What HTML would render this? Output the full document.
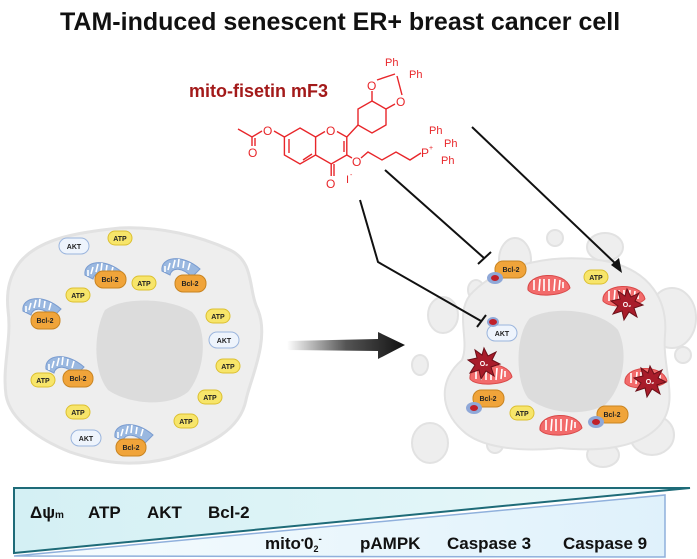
<!DOCTYPE html>
<html><head><meta charset="utf-8"><style>
html,body{margin:0;padding:0;background:#fff}
svg{display:block}
text{font-family:"Liberation Sans",sans-serif;font-weight:bold}
.p{font-size:7px;fill:#222;text-anchor:middle}
</style></head><body>
<svg width="697" height="559" viewBox="0 0 697 559" xmlns="http://www.w3.org/2000/svg">
<defs>
<linearGradient id="arr" x1="0" x2="1"><stop offset="0" stop-color="#fff"/><stop offset="0.5" stop-color="#555"/><stop offset="1" stop-color="#111"/></linearGradient>
<linearGradient id="up" x1="0" x2="1"><stop offset="0" stop-color="#d4f0f4"/><stop offset="1" stop-color="#e9f8fa"/></linearGradient>
<linearGradient id="lo" x1="0" x2="1"><stop offset="0" stop-color="#f6fcfe"/><stop offset="1" stop-color="#dff1fb"/></linearGradient>
<g id="mb"><path d="M-20,4 C-22,-10 0,-14 18,2 L10,10 C0,0 -10,0 -12,8 Z" fill="#9ab8e0" stroke="#7a9cd0"/><path d="M-14,3 l2,-7 M-9,1 l2,-8 M-4,0 l1,-8 M1,1 l1,-7 M6,3 l2,-7 M-17,5 l0,-6" stroke="#fff" stroke-width="1.6"/></g>
<g id="mr"><path d="M-20,6 C-22,-12 18,-14 22,4 C16,12 -14,14 -20,6 Z" fill="#f26b6b" stroke="#d94848"/><path d="M-14,6 l0,-10 M-9,7 l1,-12 M-4,7 l0,-12 M1,7 l0,-12 M6,7 l1,-12 M11,6 l1,-10 M15,4 l0,-6" stroke="#fff" stroke-width="1.6"/></g>
<g id="st"><polygon points="0,-15 4,-7 12,-11 8,-3 16,1 7,4 10,13 2,8 -3,16 -5,7 -14,10 -9,2 -16,-3 -7,-5 -9,-13 -2,-8" fill="#a81c2a" stroke="#6b0f18"/></g>
</defs>

<text x="60" y="30" font-size="25" fill="#111">TAM-induced senescent ER+  breast cancer cell</text>
<text x="189" y="97" font-size="18" fill="#a31a1a">mito-fisetin mF3</text>

<!-- molecule -->
<g stroke="#e8262a" stroke-width="1.4" fill="none">
<polygon points="300,128 315.6,137 315.6,155 300,164 284.4,155 284.4,137"/>
<path d="M315.6,137 L325,131.5 M337,131.5 L346.8,137 L346.8,155 L331.2,164 L315.6,155 M331.2,164 L331.2,176 M334,164 L334,176 M289,139 L289,153 M303,160 L312,154"/>
<path d="M284.4,137 L274,131 M262,131 L252,137 L238,129 M252,137 L252,146 M255,138 L255,146 M344,141 L344,152"/>
<polygon points="372,101 386,109 386,125 372,133 358,125 358,109"/>
<path d="M346.8,137 L358,125 M372,101 L372,91 M386,109 L395,104 M377,80 L395,74 M402,95 L397,76 M346.8,155 L352,158 M361,158 L368,152 L382,160 L396,152 L410,160 L421,153"/>
</g>
<g fill="#e8262a">
<text x="326" y="135" font-size="12" style="font-weight:normal">O</text>
<text x="326" y="188" font-size="12" style="font-weight:normal">O</text>
<text x="263" y="135" font-size="12" style="font-weight:normal">O</text>
<text x="248" y="157" font-size="12" style="font-weight:normal">O</text>
<text x="352" y="166" font-size="12" style="font-weight:normal">O</text>
<text x="367" y="90" font-size="12" style="font-weight:normal">O</text>
<text x="396" y="106" font-size="12" style="font-weight:normal">O</text>
<text x="385" y="66" font-size="11" style="font-weight:normal">Ph</text>
<text x="409" y="78" font-size="11" style="font-weight:normal">Ph</text>
<text x="421" y="157" font-size="12" style="font-weight:normal">P</text>
<text x="429" y="150" font-size="7" style="font-weight:normal">+</text>
<text x="429" y="134" font-size="11" style="font-weight:normal">Ph</text>
<text x="444" y="147" font-size="11" style="font-weight:normal">Ph</text>
<text x="441" y="164" font-size="11" style="font-weight:normal">Ph</text>
<text x="346" y="183" font-size="11" style="font-weight:normal">I</text>
<text x="350" y="177" font-size="7" style="font-weight:normal">-</text>
</g>

<polygon points="287,341 378,339 378,332 405,345 378,359 378,351 287,350" fill="url(#arr)"/>

<!-- left cell -->
<path d="M20,262 C40,238 80,232 120,228 C160,226 200,236 230,250 C255,262 248,290 258,310 C270,340 250,380 246,400 C240,430 210,445 170,458 C130,468 100,462 70,452 C40,440 10,420 6,395 C2,365 12,340 8,310 C6,290 10,275 20,262 Z" fill="#eeeeee" stroke="#e2e2e2" stroke-width="3"/>
<path d="M105,310 C125,296 170,298 192,312 C208,330 206,370 188,392 C168,408 128,404 108,390 C92,370 94,330 105,310 Z" fill="#dcdcdc"/>
<use href="#mb" x="105" y="271"/><use href="#mb" x="182" y="267"/><use href="#mb" x="43" y="307"/><use href="#mb" x="66" y="365"/><use href="#mb" x="135" y="433"/>
<g stroke-width="1">
<rect x="59" y="238" width="30" height="16" rx="8" fill="#eef4fc" stroke="#9bb5dd"/><text class="p" x="74" y="249">AKT</text>
<rect x="108" y="231" width="24" height="14" rx="7" fill="#f7e56a" stroke="#dcc030"/><text class="p" x="120" y="241">ATP</text>
<rect x="95" y="271" width="31" height="17" rx="8" fill="#f0a43a" stroke="#c98420"/><text class="p" x="110" y="282">Bcl-2</text>
<rect x="132" y="276" width="24" height="14" rx="7" fill="#f7e56a" stroke="#dcc030"/><text class="p" x="144" y="286">ATP</text>
<rect x="175" y="275" width="31" height="17" rx="8" fill="#f0a43a" stroke="#c98420"/><text class="p" x="190" y="286">Bcl-2</text>
<rect x="66" y="288" width="24" height="14" rx="7" fill="#f7e56a" stroke="#dcc030"/><text class="p" x="78" y="298">ATP</text>
<rect x="31" y="312" width="29" height="17" rx="8" fill="#f0a43a" stroke="#c98420"/><text class="p" x="45" y="323">Bcl-2</text>
<rect x="206" y="309" width="24" height="14" rx="7" fill="#f7e56a" stroke="#dcc030"/><text class="p" x="218" y="319">ATP</text>
<rect x="209" y="332" width="30" height="16" rx="8" fill="#eef4fc" stroke="#9bb5dd"/><text class="p" x="224" y="343">AKT</text>
<rect x="216" y="359" width="24" height="14" rx="7" fill="#f7e56a" stroke="#dcc030"/><text class="p" x="228" y="369">ATP</text>
<rect x="63" y="370" width="30" height="17" rx="8" fill="#f0a43a" stroke="#c98420"/><text class="p" x="78" y="381">Bcl-2</text>
<rect x="31" y="373" width="24" height="14" rx="7" fill="#f7e56a" stroke="#dcc030"/><text class="p" x="43" y="383">ATP</text>
<rect x="198" y="390" width="24" height="14" rx="7" fill="#f7e56a" stroke="#dcc030"/><text class="p" x="210" y="400">ATP</text>
<rect x="66" y="405" width="24" height="14" rx="7" fill="#f7e56a" stroke="#dcc030"/><text class="p" x="78" y="415">ATP</text>
<rect x="174" y="414" width="24" height="14" rx="7" fill="#f7e56a" stroke="#dcc030"/><text class="p" x="186" y="424">ATP</text>
<rect x="71" y="430" width="30" height="16" rx="8" fill="#eef4fc" stroke="#9bb5dd"/><text class="p" x="86" y="441">AKT</text>
<rect x="116" y="439" width="30" height="17" rx="8" fill="#f0a43a" stroke="#c98420"/><text class="p" x="131" y="450">Bcl-2</text>
</g>

<!-- right cell -->
<g fill="#eeeeee" stroke="#e2e2e2" stroke-width="2">
<ellipse cx="515" cy="260" rx="16" ry="22"/><ellipse cx="555" cy="238" rx="8" ry="8"/><ellipse cx="605" cy="247" rx="18" ry="14"/>
<ellipse cx="443" cy="315" rx="15" ry="18"/><ellipse cx="420" cy="365" rx="8" ry="10"/><ellipse cx="672" cy="318" rx="24" ry="30"/>
<ellipse cx="683" cy="355" rx="8" ry="8"/><ellipse cx="430" cy="443" rx="18" ry="20"/><ellipse cx="495" cy="445" rx="8" ry="8"/>
<ellipse cx="603" cy="455" rx="16" ry="12"/><ellipse cx="652" cy="435" rx="22" ry="20"/><ellipse cx="476" cy="290" rx="8" ry="10"/>
<path d="M470,295 C500,262 560,252 610,262 C650,272 668,300 665,335 C662,370 680,400 660,425 C640,448 600,452 560,448 C520,452 480,448 462,430 C440,410 438,380 462,360 C470,340 455,315 470,295 Z"/>
</g>
<path d="M530,318 C555,305 600,310 618,330 C628,350 625,385 605,405 C580,418 545,412 528,398 C515,380 515,335 530,318 Z" fill="#dcdcdc"/>
<use href="#mr" x="548" y="284"/><use href="#mr" x="623" y="295"/><use href="#mr" x="490" y="373"/><use href="#mr" x="560" y="424"/><use href="#mr" x="645" y="377"/>
<use href="#st" x="627" y="304"/><use href="#st" x="484" y="363"/><use href="#st" x="650" y="381"/>
<g font-size="7" fill="#fff" text-anchor="middle"><text x="627" y="307">O₂</text><text x="484" y="366">O₂</text><text x="650" y="384">O₂</text></g>
<g stroke-width="1">
<rect x="495" y="261" width="31" height="17" rx="8" fill="#f0a43a" stroke="#c98420"/><text class="p" x="511" y="272">Bcl-2</text>
<ellipse cx="495" cy="278" rx="8" ry="6" fill="#8fa8d8"/><ellipse cx="495" cy="278" rx="4" ry="3" fill="#c0202a"/>
<rect x="584" y="270" width="24" height="14" rx="7" fill="#f7e56a" stroke="#dcc030"/><text class="p" x="596" y="280">ATP</text>
<rect x="487" y="325" width="30" height="16" rx="8" fill="#eef4fc" stroke="#9bb5dd"/><text class="p" x="502" y="336">AKT</text>
<ellipse cx="493" cy="322" rx="6" ry="5" fill="#8fa8d8"/><ellipse cx="493" cy="322" rx="4" ry="3" fill="#c0202a"/>
<rect x="473" y="390" width="31" height="17" rx="8" fill="#f0a43a" stroke="#c98420"/><text class="p" x="488" y="401">Bcl-2</text>
<ellipse cx="474" cy="408" rx="8" ry="6" fill="#8fa8d8"/><ellipse cx="474" cy="408" rx="4" ry="3" fill="#c0202a"/>
<rect x="510" y="406" width="24" height="14" rx="7" fill="#f7e56a" stroke="#dcc030"/><text class="p" x="522" y="416">ATP</text>
<rect x="597" y="406" width="31" height="17" rx="8" fill="#f0a43a" stroke="#c98420"/><text class="p" x="612" y="417">Bcl-2</text>
<ellipse cx="596" cy="422" rx="8" ry="6" fill="#8fa8d8"/><ellipse cx="596" cy="422" rx="4" ry="3" fill="#c0202a"/>
</g>

<g stroke="#111" stroke-width="2" fill="none">
<path d="M472,127 L617,265"/>
<path d="M385,170 L484,258 M478,264 L491,252"/>
<path d="M360,200 L378,262 L481,321 M477,327 L486,315"/>
</g>
<polygon points="622,273 611,265 619,258" fill="#111"/>

<polygon points="14,488 690,488 14,553" fill="url(#up)" stroke="#1e6b78" stroke-width="2"/>
<polygon points="14,556 665,495 665,557" fill="url(#lo)" stroke="#8fb0dc" stroke-width="1.5"/>
<g font-size="17" fill="#111">
<text x="30" y="518">Δψ<tspan font-size="10">m</tspan></text>
<text x="88" y="518">ATP</text>
<text x="147" y="518">AKT</text>
<text x="208" y="518">Bcl-2</text>
<text x="265" y="549">mito<tspan font-size="9" dy="-6">•</tspan><tspan dy="6">0</tspan><tspan font-size="9" dy="3">2</tspan><tspan font-size="10" dy="-10">-</tspan></text>
<text x="360" y="549">pAMPK</text>
<text x="447" y="549">Caspase 3</text>
<text x="563" y="549">Caspase 9</text>
</g>
</svg>
</body></html>
